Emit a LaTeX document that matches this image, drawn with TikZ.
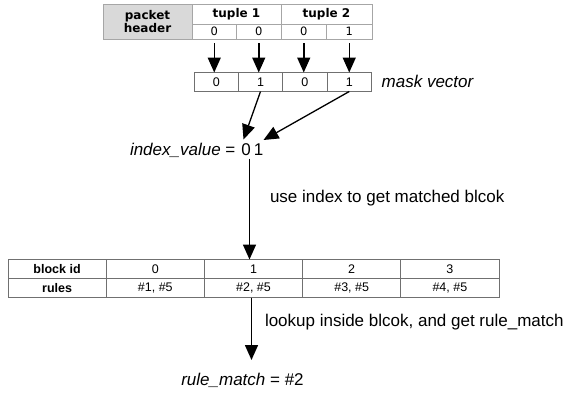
\documentclass[tikz,border=0pt]{standalone}
\usepackage{fontspec}
\setmainfont{Liberation Sans}
\newfontfamily\dvfont{DejaVu Sans}
\usetikzlibrary{arrows.meta}
\definecolor{hdrline}{HTML}{A6A6A6}
\definecolor{hdrfill}{HTML}{D9D9D9}
\definecolor{maskline}{HTML}{707070}
\definecolor{tabline}{HTML}{707070}
\begin{document}
\begin{tikzpicture}[x=1pt,y=-1pt,
  hcell/.style={draw=hdrline, line width=0.9pt, inner sep=0pt, outer sep=0pt, font=\dvfont\bfseries\fontsize{12}{14}\selectfont},
  hnum/.style={draw=hdrline, line width=0.9pt, inner sep=0pt, outer sep=0pt, minimum height=15pt, font=\dvfont\fontsize{11.5}{13}\selectfont},
  mcell/.style={draw=maskline, line width=0.9pt, inner sep=0pt, outer sep=0pt, minimum height=19pt, font=\fontsize{12.5}{14}\selectfont},
  bcell/.style={draw=tabline, line width=0.9pt, inner sep=0pt, outer sep=0pt, minimum width=98.2pt, minimum height=19pt, font=\fontsize{12.5}{14}\selectfont},
  bhead/.style={bcell, font=\bfseries\fontsize{12.5}{14}\selectfont},
  txt/.style={inner sep=0pt, outer sep=0pt, font=\fontsize{17}{20}\selectfont},
  arr/.style={-{Triangle[length=15pt,width=13pt]}, line width=1.5pt},
  darr/.style={-{Triangle[length=15pt,width=13pt]}, line width=1.3pt}]
\useasboundingbox (0,0) rectangle (566,394);

% packet header table
\node[hcell, fill=hdrfill, minimum width=89pt, minimum height=35pt, align=center] (ph) at (147.5,21.5) {packet\\[-1pt]header};
\node[hcell, minimum width=89pt, minimum height=20pt] (t1) at (236.5,14) {tuple 1};
\node[hcell, minimum width=91pt, minimum height=20pt] (t2) at (326.5,14) {tuple 2};
\node[hnum, minimum width=44.5pt] (h1) at (214.25,31.5) {0};
\node[hnum, minimum width=44.5pt] (h2) at (258.75,31.5) {0};
\node[hnum, minimum width=45.5pt] (h3) at (303.75,31.5) {0};
\node[hnum, minimum width=45.5pt] (h4) at (349.25,31.5) {1};

% mask vector
\node[mcell, minimum width=44.5pt] (m1) at (216.25,82) {0};
\node[mcell, minimum width=44pt] (m2) at (260.5,82) {1};
\node[mcell, minimum width=44.5pt] (m3) at (304.75,82) {0};
\node[mcell, minimum width=44.5pt] (m4) at (349.25,82) {1};
\node[txt, anchor=west] (mv) at (381.7,81.7) {\textit{mask vector}};

\foreach \i in {1,2,3,4}{
  \draw[arr] ([yshift=-4pt]h\i.south) -- (h\i.south |- m\i.north);
}

% index value
\node[txt, anchor=west] (idxl) at (130,150) {\textit{index\_value} =};
\node[txt] (d0) at (246,150) {0};
\node[txt] (d1) at (258.5,150) {1};
\coordinate (a0) at (243.5,139.5);
\coordinate (a1) at (263.5,140);
\draw[darr] (m2.south) -- (a0);
\draw[darr] (m4.south) -- (a1);

\node[txt, anchor=west] (use) at (270,198.3) {use index to get matched blcok};

% block table
\node[bhead] (bh) at (57.1,269) {block id};
\node[bcell] (b0) at (155.3,269) {0};
\node[bcell] (b1) at (253.5,269) {1};
\node[bcell] (b2) at (351.7,269) {2};
\node[bcell] (b3) at (449.9,269) {3};
\node[bhead] (rh) at (57.1,288) {rules};
\node[bcell] (r0) at (155.3,288) {\#1, \#5};
\node[bcell] (r1) at (253.5,288) {\#2, \#5};
\node[bcell] (r2) at (351.7,288) {\#3, \#5};
\node[bcell] (r3) at (449.9,288) {\#4, \#5};

\coordinate (idxb) at (249.5,158.5);
\draw[arr] (idxb) -- (idxb |- b1.north);

\node[txt, anchor=west] (look) at (265,321.7) {lookup inside blcok, and get rule\_match};
\node[txt] (rm) at (242.5,380) {\textit{rule\_match} = \#2};
\coordinate (rs) at (251.5,297.5);
\coordinate (rt) at (251.5,360);
\draw[arr] (rs) -- (rt);
\end{tikzpicture}
\end{document}
